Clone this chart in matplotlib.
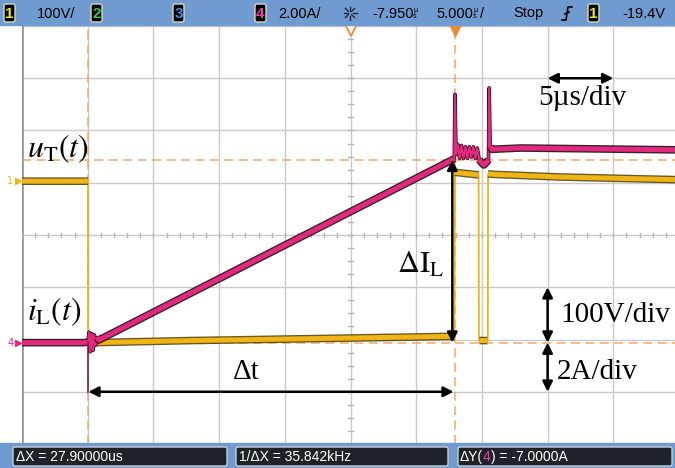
import numpy as np
import matplotlib.pyplot as plt
from matplotlib.patches import Rectangle, FancyBboxPatch

plt.rcParams['mathtext.fontset'] = 'stix'

W, H = 675, 468

# scope settings
t_per_div = 5.0      # us/div
t_center = -7.95     # us (horizontal position)
ch1_scale = 100.0    # V/div
ch4_scale = 2.0      # A/div
ch1_offset = 1.03    # div, channel 1 ground marker
ch4_offset = -2.06   # div, channel 4 ground marker

cursor_x = [-27.9, 0.0]     # us
cursor_y_ch4 = [7.0, 0.0]   # A

# channel 4: inductor current i_L  (us, A)
iL_t = [-32.95, -28.3, -27.93, -27.85, -27.75, -27.65, -27.55, -27.45, -27.35,
        -27.25, -27.1, -0.2, -0.05, 0.0, 0.08, 0.2, 0.35, 0.5, 0.65, 0.8, 0.95,
        1.1, 1.25, 1.4, 1.55, 1.7, 1.85, 2.0, 2.2, 2.4, 2.55, 2.6, 2.68, 2.8,
        5.0, 10.0, 16.74]
iL_a = [0.0, 0.0, 0.02, 0.4, -0.35, 0.35, -0.3, 0.3, -0.1, 0.2, 0.1, 7.0, 7.05,
        9.5, 7.2, 7.6, 7.05, 7.55, 7.05, 7.5, 7.05, 7.5, 7.1, 7.5, 7.05, 7.45,
        7.0, 6.9, 6.8, 6.9, 7.0, 9.75, 7.5, 7.4, 7.45, 7.42, 7.38]

# channel 1: transistor voltage u_T  (us, V)
uT_t = [-32.95, -27.93, -27.92, -27.5, -20.0, -10.0, -0.25, -0.05, 0.0, 1.8,
        1.82, 1.86, 2.46, 2.5, 2.52, 3.0, 8.0, 16.74]
uT_v = [0, 0, -310, -309, -305, -301, -297, -297, 17, 12, -300, -305, -305,
        -300, 14, 13, 8, 3]

CUR = '#f5a35c'
MAG = '#e3287e'
YEL = '#f0b414'
BAR = '#6f9bd0'


def thick_parts(t, y, limit=4.0):
    # break the trace where it jumps, the scope draws those edges thin
    t = np.asarray(t, float)
    y = np.asarray(y, float)
    tt, yy = [t[0]], [y[0]]
    for i in range(1, len(t)):
        slope = abs((y[i] - y[i - 1]) / ((t[i] - t[i - 1]) / t_per_div))
        if slope > limit:
            tt.append(np.nan)
            yy.append(np.nan)
        tt.append(t[i])
        yy.append(y[i])
    return np.array(tt), np.array(yy)


fig = plt.figure(figsize=(W / 100, H / 100), dpi=100)
fig.patch.set_facecolor('white')

ax = fig.add_axes([22 / W, (H - 444) / H, 657 / W, 418 / H])
x0 = t_center - 5 * t_per_div
x1 = t_center + 5 * t_per_div
ax.set_xlim(x0, x1)
ax.set_ylim(-4, 4)
ax.axis('off')

# graticule
for k in range(11):
    ax.axvline(x0 + k * t_per_div, color='#cacaca', lw=1, zorder=1)
for k in range(-4, 5):
    ax.axhline(k, color='#cacaca', lw=1, zorder=1)
ax.axvline(x0, color='#8e8e8e', lw=1.8, zorder=1)
for k in range(-25, 26):
    t = t_center + k * 1.0
    ax.plot([t, t], [-0.045, 0.045], color='#b5b5b5', lw=1, zorder=1)
for k in range(-16, 17):
    ax.plot([t_center - 0.16, t_center + 0.16], [k * 0.25, k * 0.25],
            color='#b5b5b5', lw=1, zorder=1)

# cursors
for cx in cursor_x:
    ax.axvline(cx, color=CUR, lw=1.3, ls=(0, (5, 3)), alpha=0.8, zorder=2)
for cy in cursor_y_ch4:
    ax.axhline(cy / ch4_scale + ch4_offset, color=CUR, lw=1.3, ls=(0, (5, 3)),
               alpha=0.8, zorder=2)
ax.plot(t_center, 3.92, marker='v', ms=8, mfc='white', mec='#f08a30', mew=1.3,
        clip_on=False, zorder=6)
ax.plot(0.0, 3.92, marker='v', ms=8, mfc='#f08a30', mec='#f08a30',
        clip_on=False, zorder=6)

# traces
u_div = np.array(uT_v) / ch1_scale + ch1_offset
i_div = np.array(iL_a) / ch4_scale + ch4_offset

ax.plot(uT_t, u_div, color=YEL, lw=1.3, zorder=3)
tu, yu = thick_parts(uT_t, u_div)
ax.plot(tu, yu, color='#4a3c00', lw=5.5, alpha=0.85, zorder=3,
        solid_capstyle='butt')
ax.plot(tu, yu, color=YEL, lw=3.6, zorder=3, solid_capstyle='butt')

ax.plot(iL_t, i_div, color='#3a0a20', lw=2.6, zorder=4)
ax.plot(iL_t, i_div, color=MAG, lw=1.5, zorder=4)
ti, yi = thick_parts(iL_t, i_div)
ax.plot(ti, yi, color='#1a0a10', lw=5.5, alpha=0.9, zorder=4,
        solid_capstyle='butt')
ax.plot(ti, yi, color=MAG, lw=3.6, zorder=4, solid_capstyle='butt')

# channel markers
tr = ax.get_yaxis_transform()
ax.text(-0.018, ch1_offset, '1', transform=tr, color=YEL, fontsize=7,
        ha='center', va='center', clip_on=False)
ax.plot(-0.006, ch1_offset, marker='>', ms=4, color=YEL, transform=tr,
        clip_on=False)
ax.text(-0.018, ch4_offset, '4', transform=tr, color=MAG, fontsize=7,
        ha='center', va='center', clip_on=False)
ax.plot(-0.006, ch4_offset, marker='>', ms=4, color=MAG, transform=tr,
        clip_on=False)

# annotation arrows
arr = dict(arrowstyle='<|-|>', color='black', lw=1.8, mutation_scale=15,
           shrinkA=0, shrinkB=0)
y_top = cursor_y_ch4[0] / ch4_scale + ch4_offset
y_gnd = cursor_y_ch4[1] / ch4_scale + ch4_offset
ax.annotate('', xy=(-0.2, y_top), xytext=(-0.2, y_gnd), arrowprops=arr, zorder=5)
ax.annotate('', xy=(cursor_x[0], -3), xytext=(cursor_x[1] - 0.1, -3),
            arrowprops=arr, zorder=5)
t_lab = t_center + 3 * t_per_div
ax.annotate('', xy=(t_lab, 3), xytext=(t_lab + t_per_div, 3), arrowprops=arr,
            zorder=5)
ax.annotate('', xy=(t_lab, -1), xytext=(t_lab, y_gnd), arrowprops=arr, zorder=5)
ax.annotate('', xy=(t_lab, y_gnd), xytext=(t_lab, -3), arrowprops=arr, zorder=5)
ax.plot([cursor_x[0], cursor_x[0]], [y_gnd, -3], color='#7a2450', lw=1.2,
        zorder=5)

serif = 'Liberation Serif'
ax.text(-32.55, 1.66, r'$u_{\mathrm{T}}(t)$', fontsize=23, va='center',
        ha='left', zorder=6)
ax.text(-32.55, -1.47, r'$i_{\mathrm{L}}(t)$', fontsize=23, va='center',
        ha='left', zorder=6)
ax.text(-2.6, -0.57, r'$\Delta\mathrm{I}_{\mathrm{L}}$', fontsize=22,
        va='center', ha='center', zorder=6)
ax.text(-15.9, -2.62, 'Δt', family=serif, fontsize=21, va='center',
        ha='center', zorder=6)
ax.text(6.3, 2.62, '5µs/div', family=serif, fontsize=21, va='center',
        ha='left', zorder=6)
ax.text(8.0, -1.53, '100V/div', family=serif, fontsize=21, va='center',
        ha='left', zorder=6)
ax.text(7.75, -2.62, '2A/div', family=serif, fontsize=21, va='center',
        ha='left', zorder=6)

# screen bars
ui = fig.add_axes([0, 0, 1, 1], zorder=5)
ui.set_xlim(0, W)
ui.set_ylim(H, 0)
ui.axis('off')
ui.patch.set_alpha(0)

sans = 'Liberation Sans'
ui.add_patch(Rectangle((0, 0), W, 25, color=BAR))
ui.add_patch(Rectangle((0, 443), W, 25, color=BAR))

for bx, lab, col in [(4, '1', '#f2e41c'), (91, '2', '#3cc83c'),
                     (173, '3', '#4a8ff0'), (255, '4', '#f03ca0'),
                     (588, '1', '#f2e41c')]:
    ui.add_patch(FancyBboxPatch((bx, 4), 11, 18, boxstyle='round,pad=0,rounding_size=2',
                                fc='black', ec='#d8d8c0', lw=1))
    ui.text(bx + 5.5, 13.5, lab, color=col, fontsize=11, family=sans,
            ha='center', va='center', weight='bold')

fs = 10.5
ui.text(37, 13.5, '100V/', fontsize=fs, family=sans, va='center')
ui.text(278, 13.5, '2.00A/', fontsize=fs, family=sans, va='center')
ui.text(372, 13.5, '-7.950', fontsize=fs, family=sans, va='center')
ui.text(413, 13.5, 'µ\ns', fontsize=5, family=sans, va='center', linespacing=0.8)
ui.text(436, 13.5, '5.000', fontsize=fs, family=sans, va='center')
ui.text(473, 13.5, 'µ\ns', fontsize=5, family=sans, va='center', linespacing=0.8)
ui.text(480, 13.5, '/', fontsize=fs, family=sans, va='center')
ui.text(513, 13.5, 'Stop', fontsize=fs, family=sans, va='center')
ui.text(622, 13.5, '-19.4V', fontsize=fs, family=sans, va='center')

# acquisition "sun" icon
for a in np.arange(0, 360, 45):
    r = np.deg2rad(a)
    ui.plot([350 + 2.5 * np.cos(r), 350 + 6.5 * np.cos(r)],
            [13 + 2.5 * np.sin(r), 13 + 6.5 * np.sin(r)], color='#202838', lw=1)
# trigger edge symbol
ui.plot([562, 566, 568, 572], [20, 20, 7, 7], color='black', lw=1.2)
ui.plot([565, 569], [14, 12], color='black', lw=1.2)

for bx, bw in [(13, 214), (236, 212), (458, 214)]:
    ui.add_patch(FancyBboxPatch((bx, 447), bw, 19, boxstyle='round,pad=0,rounding_size=2',
                                fc='#1f2327', ec='#c8d0d8', lw=1))
fb = 10
ui.text(16, 457, 'ΔX = 27.90000us', color='white', fontsize=fb, family=sans,
        va='center')
ui.text(239, 457, '1/ΔX = 35.842kHz', color='white', fontsize=fb,
        family=sans, va='center')
ui.text(460, 457, 'ΔY(', color='white', fontsize=fb, family=sans, va='center')
ui.text(483, 457, '4', color='#f03ca0', fontsize=fb, family=sans, va='center')
ui.text(491, 457, ') = -7.0000A', color='white', fontsize=fb, family=sans,
        va='center')

fig.savefig('out.png', dpi=100)
